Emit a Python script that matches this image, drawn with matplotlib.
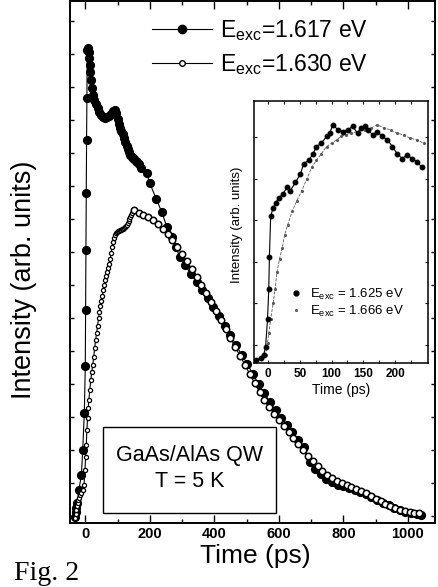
import matplotlib
matplotlib.use('Agg')
import matplotlib.pyplot as plt
from matplotlib.lines import Line2D
from matplotlib.patches import Rectangle
import numpy as np

plt.rcParams['font.family'] = ['Liberation Sans', 'DejaVu Sans']
plt.rcParams['mathtext.fontset'] = 'custom'
plt.rcParams['mathtext.rm'] = 'Liberation Sans'

# ---- main panel, E_exc = 1.617 eV (filled) ----
t_617 = [-32, -30, -28, -25, -20, -12, -8, -3, 0, 1, 2, 3, 4, 5,
         6, 8, 10, 12, 14, 16, 18, 20, 24, 28, 32, 38, 44, 50, 56, 62, 68, 74,
         80, 86, 92, 96, 100, 104, 108, 112, 116, 120, 124, 128, 132, 136, 140,
         144, 148, 152, 156, 160, 166, 172,
         190, 200, 220, 237, 253, 268, 280, 293, 310,
         327, 345, 362, 380, 397, 415, 432, 450, 467, 485, 502, 520, 537, 555,
         572, 590, 607, 625, 642, 660, 677, 695, 712, 730, 747, 765, 782, 800,
         817, 835, 852, 870, 887, 905, 922, 940, 957, 975, 992, 1010, 1027, 1040]
i_617 = [1.1, 2.1, 2.9, 3.8, 6.3, 9.2, 14.0, 21.1, 30.1, 40.8, 52.3, 63.2, 73.4, 81.4,
         90.6, 91.0, 90.2, 89.1, 87.7, 86.4, 84.9, 83.3, 82.0, 81.0, 80.3, 79.5, 78.7,
         78.2, 77.8, 77.6, 77.8, 78.0, 78.4, 78.9, 79.1, 78.5, 77.4, 76.4, 75.7, 75.1,
         74.5, 73.8, 73.0, 72.2, 71.6, 71.1, 70.5, 70.1, 69.9, 69.7, 69.3, 69.1, 68.8,
         68.0,
         67.0, 65.1, 62.1, 59.6, 56.7, 54.8, 52.9, 51.0, 49.4,
         47.7, 46.2, 44.6, 43.1, 41.4, 39.7, 37.7, 36.0, 34.1, 32.2, 30.5, 28.5, 26.6,
         24.9, 23.2, 21.6, 20.1, 18.8, 17.4, 15.9, 14.6, 11.7, 10.3, 9.4, 8.4, 7.9,
         7.3, 7.1, 6.7, 6.3, 5.9, 5.6, 5.0, 4.4, 3.8, 3.4, 2.9, 2.5, 2.1, 1.9, 1.7, 1.5]

# ---- main panel, E_exc = 1.630 eV (open) ----
t_630 = [-32, -30, -28, -26, -24, -22, -20, -16, -12, -8, -4, -1, 1, 3, 5, 7, 9, 11,
         14, 17, 20, 23, 26, 29, 32, 35, 38, 41, 44, 47, 50, 53, 56, 59, 62, 65, 68,
         71, 74, 77, 80, 83, 86, 89, 92, 95, 98, 101, 104, 107, 110, 113, 116, 119,
         122, 125, 128, 131, 134, 137, 140, 143, 146, 149, 152,
         165, 180, 195, 210, 225, 240, 255, 270, 285, 300, 315, 330, 345, 360, 375,
         390, 405, 420, 435, 450, 465, 480, 495, 510, 525, 540, 555, 570, 585, 600,
         615, 630, 645, 660, 675, 690, 705, 720, 735, 750, 765, 780, 795, 810, 825,
         840, 855, 870, 885, 900, 915, 930, 945, 960, 975, 990, 1005, 1020, 1035]
i_630 = [1.0, 1.7, 2.5, 3.3, 3.8, 4.4, 4.8, 5.4, 5.7, 6.3, 7.3, 10.2, 12.6, 14.9, 17.8,
         20.1, 22.0, 23.6, 25.5, 27.4, 28.9, 30.3, 31.8, 33.5, 35.1, 36.4, 37.7, 39.3,
         40.4, 41.6, 42.5, 43.5, 44.6, 45.6, 46.6, 47.3, 48.1, 48.9, 49.6, 50.6, 51.7,
         52.9, 53.8, 54.6, 55.2, 55.6, 55.7, 55.9, 55.9, 56.1, 56.1, 56.3, 56.3, 56.5,
         56.7, 56.9, 57.1, 57.5, 57.9, 58.2, 58.6, 59.0, 59.4, 59.8, 60.0,
         59.4, 59.0, 58.6, 58.0, 57.3, 56.3, 55.4, 54.2, 52.9, 51.5, 50.2, 48.7, 47.1,
         45.6, 44.1, 42.3, 40.6, 38.9, 37.2, 35.4, 33.7, 32.0, 30.3, 28.5, 26.8, 25.1,
         23.6, 22.2, 20.9, 19.7, 18.6, 17.4, 16.3, 15.1, 14.0, 12.8, 11.9, 10.9, 10.0,
         9.2, 8.6, 8.0, 7.7, 7.3, 6.9, 6.5, 6.1, 5.7, 5.2, 4.6, 4.2, 3.6, 3.3, 2.9,
         2.5, 2.3, 2.1, 1.9, 1.9]

# ---- inset, E_exc = 1.625 eV ----
t_625 = [-19, -12, -7, -4, -1, 1, 2, 4, 8, 12, 17, 23, 30, 35, 43, 51, 56, 64, 71,
         76, 84, 92, 97, 102, 110, 118, 126, 133, 141, 146, 152, 157, 165, 172, 180,
         188, 196, 203, 211, 219, 227, 235, 242]
i_625 = [0, 0.7, 2, 5.2, 15.7, 27.5, 39.9, 55.6, 58.8, 60.8, 62.7, 64.1, 66.7, 65.4,
         68.6, 71.9, 75.8, 77.1, 79.7, 82.4, 83.7, 86.3, 87.6, 90.8, 88.9, 88.2, 88.9,
         90.2, 87.6, 89.5, 90.2, 88.9, 86.9, 88.2, 86.3, 85.0, 82.4, 79.7, 77.8, 79.1,
         77.8, 76.5, 74.5]

# ---- inset, E_exc = 1.666 eV ----
t_666 = [-10, -4, -1, 1, 4, 8, 11, 14, 18, 22, 26, 31, 38, 45, 53, 61, 69, 76, 84,
         92, 100, 108, 115, 123, 131, 141, 152, 162, 172, 183, 193, 203, 214, 224,
         235, 245]
i_666 = [0.7, 2, 6.5, 10.5, 15.7, 22.2, 27.5, 34, 39.2, 43.1, 48.4, 52.3, 57.5, 61.4,
         65.4, 69.9, 74.5, 77.1, 79.7, 82.4, 83.7, 85, 86.3, 86.9, 87.6, 88.2, 88.9,
         89.5, 90.8, 89.5, 88.9, 87.6, 86.9, 85.6, 85, 83.7]

main_xticks = [0, 200, 400, 600, 800, 1000]
inset_xticks = [0, 50, 100, 150, 200]

fig = plt.figure(figsize=(4.39, 5.87), dpi=100)
ax = fig.add_axes([0.159, 0.109, 0.832, 0.889])

t1, v1 = np.array(t_617), np.array(i_617)
t2, v2 = np.array(t_630), np.array(i_630)

ax.plot(t1, v1, '-', color='k', lw=0.8, zorder=2)
ax.plot(t1, v1, 'o', color='k', ms=5.6, zorder=3)
ax.plot(t2, v2, '-', color='k', lw=0.8, zorder=4)
early = t2 < 150
ax.plot(t2[early], v2[early], 'o', mfc='white', mec='k', mew=0.9, ms=3.0, zorder=5)
ax.plot(t2[~early], v2[~early], 'o', mfc='white', mec='k', mew=1.1, ms=4.6, zorder=5)

ax.set_xticks(main_xticks)
ax.set_xticks(np.arange(100, 1000, 200), minor=True)
ax.set_yticks(np.arange(1.4, 100, 6.32))
ax.set_yticklabels([])
ax.set_xlim(-48, 1084)
ax.set_ylim(0, 100)
ax.tick_params(which='both', direction='in', top=True, right=True, width=1.0)
ax.tick_params(which='major', length=6, labelsize=10.5, pad=3)
ax.tick_params(which='minor', length=3)
ax.tick_params(axis='y', length=3)
for lab in ax.get_xticklabels():
    lab.set_fontweight('bold')
for s in ax.spines.values():
    s.set_linewidth(1.4)

handles = [Line2D([], [], color='k', lw=0.8, marker='o', ms=6, mfc='k'),
           Line2D([], [], color='k', lw=0.8, marker='o', ms=4, mfc='white', mec='k')]
labels = [r'E$_{\mathregular{exc}}$=1.617 eV', r'E$_{\mathregular{exc}}$=1.630 eV']
ax.legend(handles, labels, loc='upper left', bbox_to_anchor=(0.225, 0.968),
          frameon=False, fontsize=16.5, handlelength=2.6, handletextpad=0.35,
          borderpad=0, borderaxespad=0, labelspacing=0.4)

ax.add_patch(Rectangle((0.090, 0.019), 0.474, 0.165, transform=ax.transAxes,
                       fill=False, ec='k', lw=1.0, zorder=6))
ax.text(0.327, 0.130, 'GaAs/AlAs QW', transform=ax.transAxes, ha='center',
        va='center', fontsize=15.5, zorder=7)
ax.text(0.327, 0.079, 'T = 5 K', transform=ax.transAxes, ha='center',
        va='center', fontsize=15.5, zorder=7)

fig.text(0.055, 0.523, 'Intensity (arb. units)', rotation=90, ha='center',
         va='center', fontsize=19.5)
fig.text(0.581, 0.052, 'Time (ps)', ha='center', va='center', fontsize=19)
fig.text(0.032, 0.012, 'Fig. 2', ha='left', va='baseline', fontsize=20,
         family='Liberation Serif')

# inset
ins = fig.add_axes([0.579, 0.382, 0.396, 0.446])
ins.plot(t_666, i_666, '--', color='0.35', lw=0.6, marker='.', ms=2.5, zorder=2)
ins.plot(t_625, i_625, '-', color='k', lw=0.8, marker='o', ms=3.2, zorder=3)
ins.set_xticks(inset_xticks)
ins.set_xticks(np.arange(25, 250, 50), minor=True)
ins.set_yticks(np.arange(6, 100, 16))
ins.set_yticklabels([])
ins.set_xlim(-22, 252)
ins.set_ylim(-1, 100)
ins.tick_params(which='both', direction='in', top=True, right=True, length=2.5,
                width=0.8, labelsize=8.5, pad=4)
for lab in ins.get_xticklabels():
    lab.set_fontweight('bold')
for s in ins.spines.values():
    s.set_linewidth(1.1)
ins.set_xlabel('Time (ps)', fontsize=10, labelpad=2)
fig.text(0.540, 0.617, 'Intensity (arb. units)', rotation=90, ha='center',
         va='center', fontsize=9.5)

ih = [Line2D([], [], ls='none', marker='o', ms=3.5, color='k'),
      Line2D([], [], ls='none', marker='.', ms=2.5, color='0.35')]
il = [r'E$_{\mathregular{exc}}$ = 1.625 eV', r'E$_{\mathregular{exc}}$ = 1.666 eV']
ins.legend(ih, il, loc='upper left', bbox_to_anchor=(0.2, 0.29), frameon=False,
           fontsize=9.5, handlelength=1.0, handletextpad=0.6, borderpad=0,
           borderaxespad=0, labelspacing=0.15)

fig.savefig('out.png', dpi=100)
